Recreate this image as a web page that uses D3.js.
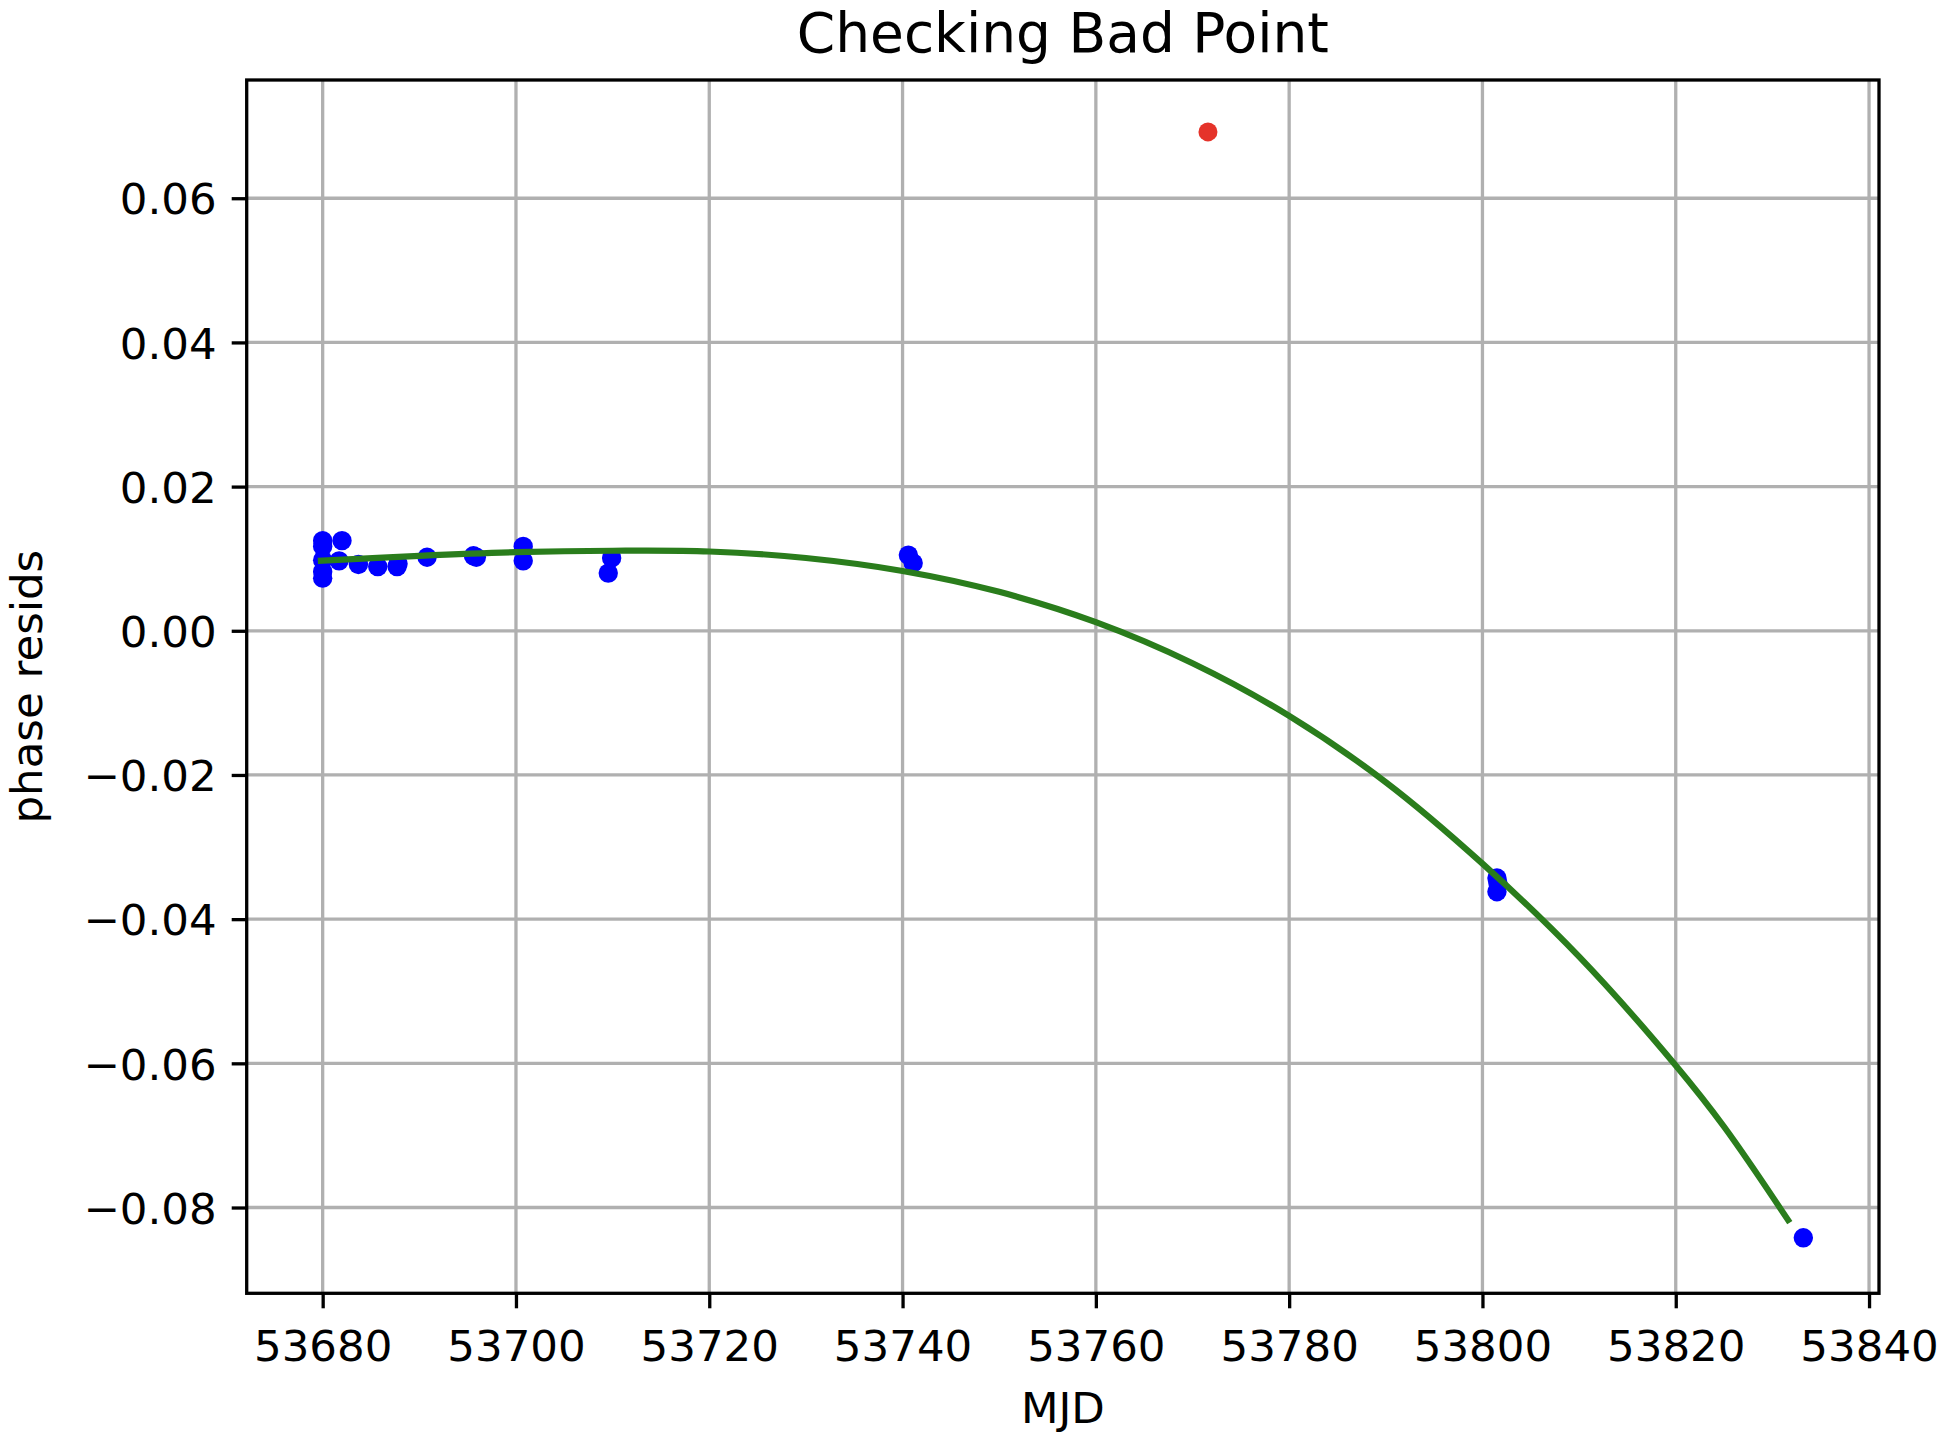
<!DOCTYPE html>
<html>
<head>
<meta charset="utf-8">
<script src="https://cdn.jsdelivr.net/npm/d3@7/dist/d3.min.js"></script>
<style>
  html, body { margin: 0; padding: 0; background: #fff; }
  svg { display: block; font-family: "DejaVu Sans", sans-serif; }
</style>
</head>
<body>
<svg id="chart" width="1938" height="1434"></svg>
<script>
// ---- data ----
const goodMJD = [53680, 53680, 53680, 53680, 53680, 53682, 53681.7, 53683.7, 53685.7, 53687.7, 53687.8,
                 53690.8, 53695.6, 53695.9, 53700.75, 53700.75, 53709.9, 53709.55,
                 53740.6, 53741.1, 53801.5, 53801.6, 53801.5, 53833.2];
const goodResid = [0.0125, 0.0117, 0.0098, 0.0082, 0.0073, 0.0125, 0.0097, 0.0092, 0.0089, 0.0089, 0.0093,
                   0.0102, 0.0104, 0.0102, 0.0117, 0.0097, 0.0101, 0.0080,
                   0.0105, 0.0094, -0.0343, -0.0350, -0.0362, -0.0842];
const badMJD = [53771.6];
const badResid = [0.0692];
const fitMJD = [53679.5, 53690, 53700, 53710, 53720, 53730, 53740, 53750, 53760, 53770, 53780,
                53790, 53800, 53810, 53820, 53825, 53831.8];
const fitResid = [0.0097, 0.0104, 0.0109, 0.0111, 0.0110, 0.0101, 0.0083, 0.0054, 0.0012, -0.0045, -0.0118,
                  -0.0210, -0.0323, -0.0452, -0.0603, -0.0688, -0.0821];
const xTicks = [53680, 53700, 53720, 53740, 53760, 53780, 53800, 53820, 53840];
const yTicks = [-0.08, -0.06, -0.04, -0.02, 0.00, 0.02, 0.04, 0.06];
const yTickLabels = ["\u22120.08", "\u22120.06", "\u22120.04", "\u22120.02", "0.00", "0.02", "0.04", "0.06"];
const titleText = "Checking Bad Point";
const xLabel = "MJD";
const yLabel = "phase resids";

// ---- layout ----
const L = 246.7, R = 1879, T = 80, B = 1293.3;
const x = d3.scaleLinear().domain([53672.14, 53841.03]).range([L, R]);
const y = d3.scaleLinear().domain([-0.0919, 0.0764]).range([B, T]);

const svg = d3.select("#chart");
const fontSize = 43.5;

// grid
const grid = svg.append("g");
grid.selectAll("line.gx").data(xTicks).enter().append("line")
  .attr("x1", d => x(d)).attr("x2", d => x(d)).attr("y1", T).attr("y2", B)
  .attr("stroke", "#b0b0b0").attr("stroke-width", 3.3);
grid.selectAll("line.gy").data(yTicks).enter().append("line")
  .attr("y1", d => y(d)).attr("y2", d => y(d)).attr("x1", L).attr("x2", R)
  .attr("stroke", "#b0b0b0").attr("stroke-width", 3.3);

// blue points
const good = goodMJD.map((m, i) => [m, goodResid[i]]);
svg.append("g").selectAll("circle").data(good).enter().append("circle")
  .attr("cx", d => x(d[0])).attr("cy", d => y(d[1])).attr("r", 9.7)
  .attr("fill", "#0000ff");

// fit line
const fit = fitMJD.map((m, i) => [m, fitResid[i]]);
svg.append("path").datum(fit)
  .attr("d", d3.line().x(d => x(d[0])).y(d => y(d[1])).curve(d3.curveCatmullRom.alpha(0.5)))
  .attr("fill", "none").attr("stroke", "#2a7d1c").attr("stroke-width", 6.2);

// red point
const bad = badMJD.map((m, i) => [m, badResid[i]]);
svg.append("g").selectAll("circle").data(bad).enter().append("circle")
  .attr("cx", d => x(d[0])).attr("cy", d => y(d[1])).attr("r", 9.5)
  .attr("fill", "#e5332a");

// axes
const xAxis = d3.axisBottom(x).tickValues(xTicks).tickFormat(d3.format("d"))
  .tickSize(15).tickPadding(13);
const gx = svg.append("g").attr("transform", `translate(0,${B})`).call(xAxis);
const yAxis = d3.axisLeft(y).tickValues(yTicks).tickFormat((d, i) => yTickLabels[i])
  .tickSize(15).tickPadding(15);
const gy = svg.append("g").attr("transform", `translate(${L},0)`).call(yAxis);
[gx, gy].forEach(g => {
  g.select(".domain").remove();
  g.selectAll(".tick line").attr("stroke", "#000").attr("stroke-width", 3.3);
  g.selectAll(".tick text").attr("fill", "#000").attr("font-size", fontSize)
    .attr("font-family", "DejaVu Sans");
});
gx.selectAll(".tick text").attr("dy", null).attr("y", 68.2);
gy.selectAll(".tick text").attr("dy", "0.36em");

// spines
svg.append("rect").attr("x", L).attr("y", T).attr("width", R - L).attr("height", B - T)
  .attr("fill", "none").attr("stroke", "#000").attr("stroke-width", 3.3)
  .attr("stroke-linejoin", "miter");

// title & labels
svg.append("text").attr("x", (L + R) / 2).attr("y", 52).attr("text-anchor", "middle")
  .attr("font-size", 55).attr("fill", "#000").text(titleText);
svg.append("text").attr("x", (L + R) / 2).attr("y", 1423).attr("text-anchor", "middle")
  .attr("font-size", fontSize).attr("fill", "#000").text(xLabel);
svg.append("text").attr("transform", `translate(42,${(T + B) / 2}) rotate(-90)`)
  .attr("text-anchor", "middle").attr("font-size", fontSize).attr("fill", "#000").text(yLabel);
</script>
</body>
</html>
